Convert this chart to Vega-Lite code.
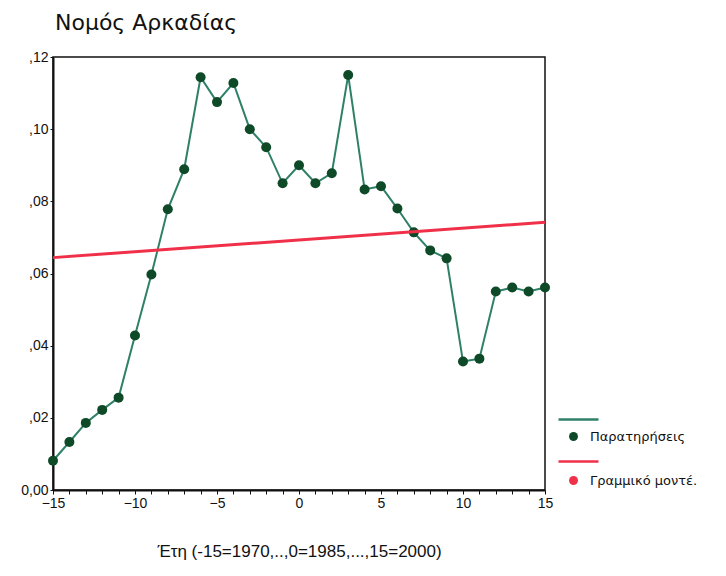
{
  "$schema": "https://vega.github.io/schema/vega-lite/v6.json",
  "width": 492,
  "height": 433,
  "autosize": {"type": "none"},
  "padding": {"left": 53, "top": 57, "right": 181, "bottom": 86},
  "background": "white",
  "config": {
    "view": {"stroke": "#111", "strokeWidth": 1.5},
    "font": "Liberation Sans",
    "legend": {"padding": 0}
  },
  "title": {
    "text": "Νομός Αρκαδίας",
    "anchor": "start",
    "frame": "group",
    "dx": 2,
    "offset": 15,
    "fontSize": 22,
    "font": "DejaVu Sans",
    "fontWeight": "normal",
    "color": "#111"
  },
  "datasets": {
    "obs": [
      {"t": -15, "v": 0.0081},
      {"t": -14, "v": 0.0133},
      {"t": -13, "v": 0.0186},
      {"t": -12, "v": 0.0222},
      {"t": -11, "v": 0.0256},
      {"t": -10, "v": 0.0428},
      {"t": -9, "v": 0.0597},
      {"t": -8, "v": 0.0778},
      {"t": -7, "v": 0.0889},
      {"t": -6, "v": 0.1144},
      {"t": -5, "v": 0.1075},
      {"t": -4, "v": 0.1128},
      {"t": -3, "v": 0.1},
      {"t": -2, "v": 0.095},
      {"t": -1, "v": 0.085},
      {"t": 0, "v": 0.09},
      {"t": 1, "v": 0.085},
      {"t": 2, "v": 0.0878},
      {"t": 3, "v": 0.115},
      {"t": 4, "v": 0.0833},
      {"t": 5, "v": 0.0842},
      {"t": 6, "v": 0.078},
      {"t": 7, "v": 0.0714},
      {"t": 8, "v": 0.0664},
      {"t": 9, "v": 0.0642},
      {"t": 10, "v": 0.0356},
      {"t": 11, "v": 0.0364},
      {"t": 12, "v": 0.055},
      {"t": 13, "v": 0.0561},
      {"t": 14, "v": 0.055},
      {"t": 15, "v": 0.0561}
    ],
    "model": [
      {"t": -15, "v": 0.0644},
      {"t": 15, "v": 0.0742}
    ]
  },
  "encoding": {
    "x": {
      "field": "t",
      "type": "quantitative",
      "scale": {"domain": [-15, 15], "nice": false, "zero": false},
      "axis": {
        "values": [-15,-14,-13,-12,-11,-10,-9,-8,-7,-6,-5,-4,-3,-2,-1,0,1,2,3,4,5,6,7,8,9,10,11,12,13,14,15],
        "labelExpr": "datum.value % 5 === 0 ? datum.label : ''",
        "title": "Έτη (-15=1970,..,0=1985,...,15=2000)",
        "titleFontSize": 17,
        "titleFontWeight": "normal",
        "titleFont": "Liberation Sans",
        "titleColor": "#111",
        "titlePadding": 33,
        "labelFontSize": 14,
        "labelColor": "#111",
        "labelFlush": false,
        "labelOverlap": false,
        "tickSize": 4,
        "tickColor": "#111",
        "domainColor": "#111",
        "domainWidth": 2,
        "grid": false
      }
    },
    "y": {
      "field": "v",
      "type": "quantitative",
      "scale": {"domain": [0, 0.12], "nice": false},
      "axis": {
        "values": [0, 0.02, 0.04, 0.06, 0.08, 0.1, 0.12],
        "labelExpr": "datum.value === 0 ? '0,00' : replace(format(datum.value, '.2f'), '0.', ',')",
        "title": null,
        "labelFontSize": 14,
        "labelColor": "#111",
        "labelFlush": false,
        "tickSize": 3,
        "tickColor": "#111",
        "domainColor": "#111",
        "domainWidth": 2,
        "grid": false
      }
    }
  },
  "layer": [
    {
      "data": {"name": "obs"},
      "mark": {"type": "line", "strokeWidth": 2},
      "encoding": {
        "stroke": {
          "datum": "obs",
          "type": "nominal",
          "scale": {"domain": ["obs", "model"], "range": ["#2f8068", "#f03048"]},
          "legend": {
            "orient": "none",
            "legendX": 504,
            "legendY": 341,
            "title": null,
            "labelExpr": "''",
            "symbolSize": 1600,
            "symbolStrokeWidth": 2.5,
            "rowPadding": 15,
            "labelOffset": 0
          }
        }
      }
    },
    {
      "data": {"name": "obs"},
      "mark": {"type": "point", "filled": true, "size": 100, "opacity": 1},
      "encoding": {
        "color": {
          "datum": "Παρατηρήσεις",
          "type": "nominal",
          "scale": {
            "domain": ["Παρατηρήσεις", "Γραμμικό μοντέ."],
            "range": ["#0f4a28", "#f03048"]
          },
          "legend": {
            "orient": "none",
            "legendX": 514,
            "legendY": 373,
            "title": null,
            "labelFontSize": 13,
            "labelFont": "DejaVu Sans",
            "labelColor": "#111",
            "symbolSize": 80,
            "symbolOpacity": 1,
            "rowPadding": 30,
            "labelOffset": 10
          }
        }
      }
    },
    {
      "data": {"name": "model"},
      "mark": {"type": "line", "strokeWidth": 3},
      "encoding": {
        "stroke": {"datum": "model", "type": "nominal"}
      }
    }
  ]
}
